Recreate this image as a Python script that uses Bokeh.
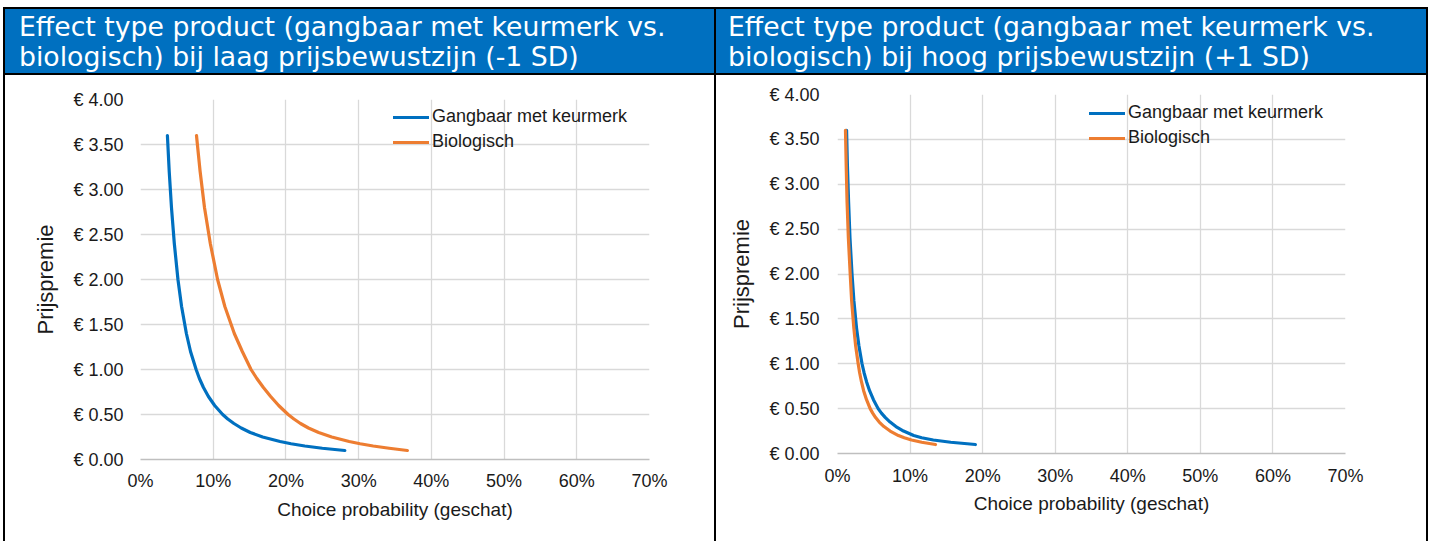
from bokeh.plotting import figure
from bokeh.models import Range1d, FixedTicker, Legend, Div
from bokeh.layouts import row, column
from bokeh.embed import file_html
from bokeh.resources import INLINE

# ---------------- data ----------------
price = [3.6, 3.2, 2.8, 2.4, 2.0, 1.7, 1.4, 1.2, 1.0, 0.9, 0.8, 0.7, 0.6, 0.5,
         0.45, 0.4, 0.35, 0.3, 0.25, 0.2, 0.175, 0.15, 0.125, 0.1]

# low price consciousness (-1 SD), choice probability in %
low_gangbaar = [3.70, 3.95, 4.26, 4.65, 5.15, 5.65, 6.31, 6.88, 7.65, 8.1, 8.66, 9.34,
                10.2, 11.3, 12.0, 12.85, 13.85, 15.1, 16.8, 19.2, 20.7, 22.6, 25.0, 28.1]
low_biologisch = [7.7, 8.2, 8.8, 9.6, 10.6, 11.6, 12.9, 14.0, 15.2, 16.0, 16.9, 17.9,
                  19.0, 20.3, 21.1, 22.0, 23.1, 24.5, 26.3, 28.7, 30.2, 32.0, 34.2, 36.7]

# high price consciousness (+1 SD)
high_gangbaar = [1.25, 1.37, 1.53, 1.72, 2.0, 2.26, 2.62, 2.95, 3.38, 3.66, 4.0, 4.42,
                 4.95, 5.6, 6.05, 6.6, 7.25, 8.05, 9.1, 10.5, 11.6, 13.2, 15.6, 19.0]
high_biologisch = [1.1, 1.2, 1.32, 1.5, 1.75, 1.95, 2.25, 2.5, 2.85, 3.05, 3.3, 3.6,
                   4.0, 4.5, 4.85, 5.25, 5.75, 6.4, 7.25, 8.4, 9.2, 10.2, 11.6, 13.5]

series_names = ["Gangbaar met keurmerk", "Biologisch"]

x_ticks = [0, 10, 20, 30, 40, 50, 60, 70]
x_tick_labels = ["0%", "10%", "20%", "30%", "40%", "50%", "60%", "70%"]
y_ticks = [0, 0.5, 1.0, 1.5, 2.0, 2.5, 3.0, 3.5, 4.0]
y_tick_labels = ["€ 0.00", "€ 0.50", "€ 1.00", "€ 1.50", "€ 2.00", "€ 2.50",
                 "€ 3.00", "€ 3.50", "€ 4.00"]

titles_low = ["Effect type product (gangbaar met keurmerk vs.",
              "biologisch) bij laag prijsbewustzijn (-1 SD)"]
titles_high = ["Effect type product (gangbaar met keurmerk vs.",
               "biologisch) bij hoog prijsbewustzijn (+1 SD)"]

x_title = "Choice probability (geschat)"
y_title = "Prijspremie"

# ---------------- styles ----------------
HEADER_BLUE = "#0070C0"
LINE_BLUE = "#0070C0"
LINE_ORANGE = "#ED7D31"
GRID = "#D9D9D9"
TXT = "#1a1a1a"
FONT = "Liberation Sans"
TOTAL_H = 541


def header(lines, width, pad_left):
    inner = (
        f'<div style="box-sizing:border-box;width:{width}px;height:75px;padding-top:7px;">'
        f'<div style="box-sizing:border-box;height:68px;background:{HEADER_BLUE};'
        f'border-top:2px solid black;border-bottom:2px solid black;color:white;'
        f"font-family:'DejaVu Sans';font-size:26.7px;line-height:30.7px;"
        f'padding-left:{pad_left}px;padding-top:2.5px;white-space:nowrap;overflow:hidden;">'
        f'{lines[0]}<br>{lines[1]}</div></div>'
    )
    return Div(text=inner, width=width, height=75, margin=0)


def chart(width, mbl, mbr, mbt, mbb, xb, xo, leg_x, leg_y, xstand, xlstand, ystand, ylstand):
    p = figure(width=width, height=TOTAL_H - 75, x_range=Range1d(0, 70), y_range=Range1d(0, 4),
               toolbar_location=None, output_backend="svg",
               min_border_left=mbl, min_border_right=mbr,
               min_border_top=mbt, min_border_bottom=mbb,
               outline_line_color=None, background_fill_color="white",
               border_fill_color="white")
    r1 = p.line(xb, price, line_color=LINE_BLUE, line_width=3.2,
                line_cap="round", line_join="round")
    r2 = p.line(xo, price, line_color=LINE_ORANGE, line_width=3.2,
                line_cap="round", line_join="round")

    p.xaxis.ticker = FixedTicker(ticks=x_ticks)
    p.xgrid.ticker = FixedTicker(ticks=x_ticks)
    p.xaxis.major_label_overrides = dict(zip(x_ticks, x_tick_labels))
    p.yaxis.ticker = FixedTicker(ticks=y_ticks)
    p.ygrid.ticker = FixedTicker(ticks=y_ticks)
    p.yaxis.major_label_overrides = dict(zip(y_ticks, y_tick_labels))

    p.grid.grid_line_color = GRID
    p.grid.grid_line_width = 1.3

    for ax in (p.xaxis, p.yaxis):
        ax.major_tick_line_color = None
        ax.minor_tick_line_color = None
        ax.major_tick_out = 0
        ax.major_tick_in = 0
        ax.major_label_text_font = FONT
        ax.major_label_text_font_size = "18px"
        ax.major_label_text_color = TXT
        ax.axis_label_text_font = FONT
        ax.axis_label_text_font_style = "normal"
        ax.axis_label_text_color = TXT
    p.xaxis.axis_line_color = "#BFBFBF"
    p.xaxis.axis_line_width = 1.5
    p.yaxis.axis_line_color = None

    p.xaxis.axis_label = x_title
    p.xaxis.axis_label_text_font_size = "19px"
    p.yaxis.axis_label = y_title
    p.yaxis.axis_label_text_font_size = "22px"
    p.xaxis.major_label_standoff = xstand
    p.xaxis.axis_label_standoff = xlstand
    p.yaxis.major_label_standoff = ystand
    p.yaxis.axis_label_standoff = ylstand

    legend = Legend(items=[(series_names[0], [r1]), (series_names[1], [r2])],
                    location=(leg_x, leg_y), glyph_width=36, glyph_height=20,
                    label_height=20, label_standoff=3, spacing=4, padding=0, margin=0,
                    border_line_color=None, background_fill_alpha=0,
                    label_text_font=FONT, label_text_font_size="18px",
                    label_text_color=TXT)
    p.add_layout(legend)
    return p


def vline(offset):
    inner = (f'<div style="margin-left:{offset}px;margin-top:7px;width:2px;'
             f'height:{TOTAL_H - 7}px;background:black;"></div>')
    return Div(text=inner, width=offset + 2, height=TOTAL_H, margin=0)


h_low = header(titles_low, 709, 14)
c_low = chart(709, 135, 65, 24, 82, low_gangbaar, low_biologisch, 253, 307, 11, 5, 17, 12)

h_high = header(titles_high, 710, 12)
c_high = chart(710, 121, 81, 19, 88, high_gangbaar, high_biologisch, 252, 305, 12, 4, 18, 12)

layout = row(vline(3), column(h_low, c_low), vline(0), column(h_high, c_high), vline(0))

open("out.html", "w").write(file_html(layout, INLINE))
